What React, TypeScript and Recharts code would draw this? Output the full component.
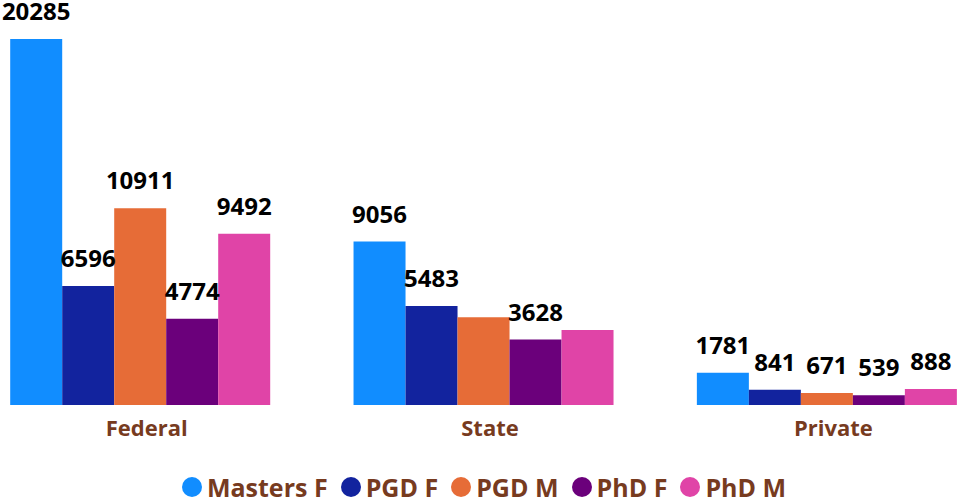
import { BarChart, Bar, XAxis, YAxis, Legend, LabelList } from 'recharts';

const categories = ['Federal', 'State', 'Private'];
const mastersF = [20285, 9056, 1781];
const pgdF = [6596, 5483, 841];
const pgdM = [10911, 4870, 671];
const phdF = [4774, 3628, 539];
const phdM = [9492, 4150, 888];

// labels that the original hid because they collided
const hiddenLabels = ['State|PGD M', 'State|PhD M'];

const series = [
  { key: 'Masters F', values: mastersF, color: '#118DFF' },
  { key: 'PGD F', values: pgdF, color: '#12239E' },
  { key: 'PGD M', values: pgdM, color: '#E66C37' },
  { key: 'PhD F', values: phdF, color: '#6B007B' },
  { key: 'PhD M', values: phdM, color: '#E044A7' },
];

const data = categories.map((name, i) => {
  const row: any = { name };
  series.forEach(s => { row[s.key] = s.values[i]; });
  return row;
});

const FONT = '"Open Sans", "Segoe UI", sans-serif';
const BROWN = '#773B1F';

const makeLabel = (seriesKey: string) => (props: any) => {
  const { x, y, width, value, index } = props;
  if (hiddenLabels.includes(`${categories[index]}|${seriesKey}`)) return null;
  return (
    <text
      x={x + width / 2}
      y={y - 19}
      textAnchor="middle"
      fill="#000"
      fontFamily={FONT}
      fontWeight={700}
      fontSize={24}
    >
      {value}
    </text>
  );
};

const renderLegend = () => (
  <div style={{ display: 'flex', justifyContent: 'center', alignItems: 'center', height: 30, fontFamily: FONT }}>
    {series.map((s, i) => (
      <div key={s.key} style={{ display: 'flex', alignItems: 'center', marginLeft: i === 0 ? 0 : 13 }}>
        <span style={{ width: 20, height: 20, borderRadius: '50%', background: s.color, marginRight: 5, display: 'inline-block' }} />
        <span style={{ fontSize: 25, fontWeight: 700, color: BROWN }}>{s.key}</span>
      </div>
    ))}
  </div>
);

export default function App() {
  return (
    <div style={{ position: 'absolute', left: 0, top: 0, width: 957, height: 503, background: '#fff' }}>
      <BarChart
        width={957}
        height={503}
        data={data}
        margin={{ top: 39, right: -42, left: -31, bottom: 1 }}
        barCategoryGap="12%"
        barGap={0}
      >
        <XAxis
          dataKey="name"
          axisLine={false}
          tickLine={false}
          tickSize={0}
          tickMargin={15}
          height={67}
          tick={{ fill: BROWN, fontSize: 22, fontWeight: 700, fontFamily: FONT, dx: 6 }}
        />
        <YAxis hide domain={[0, 'dataMax']} />
        <Legend verticalAlign="bottom" content={renderLegend} />
        {series.map(s => (
          <Bar key={s.key} dataKey={s.key} fill={s.color} isAnimationActive={false}>
            <LabelList dataKey={s.key} content={makeLabel(s.key)} />
          </Bar>
        ))}
      </BarChart>
    </div>
  );
}
